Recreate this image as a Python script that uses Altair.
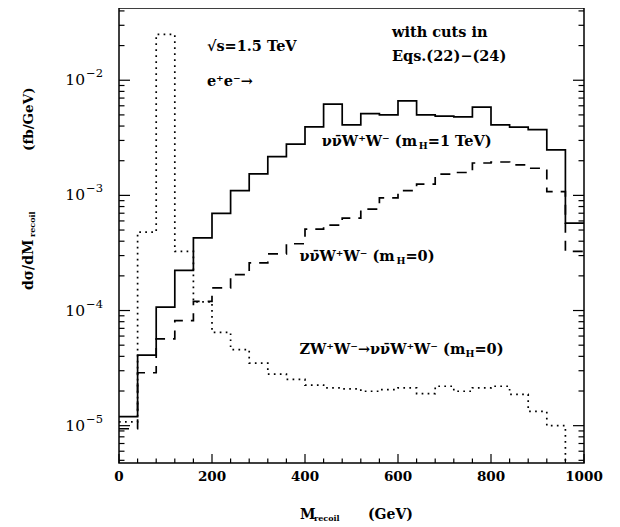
import altair as alt
import pandas as pd

# ---------------- data ----------------
edges = list(range(0, 1001, 40))  # M_recoil bin edges (GeV)

# nu nubar W+ W- (m_H = 1 TeV)  -- solid
solid = [1.2e-5, 4.1e-5, 1.07e-4, 2.23e-4, 4.27e-4, 6.97e-4, 1.1e-3, 1.54e-3,
         2.17e-3, 2.79e-3, 3.94e-3, 6.2e-3, 4.09e-3, 5.13e-3, 5.0e-3, 6.61e-3,
         5.0e-3, 4.87e-3, 4.8e-3, 5.83e-3, 4.09e-3, 3.91e-3, 3.73e-3, 2.48e-3,
         5.75e-4]
# nu nubar W+ W- (m_H = 0)  -- dashed
dashed = [9.4e-6, 2.88e-5, 5.68e-5, 8.17e-5, 1.2e-4, 1.57e-4, 2.05e-4, 2.59e-4,
          3.11e-4, 3.8e-4, 5.1e-4, 5.52e-4, 6.35e-4, 7.6e-4, 9.5e-4, 1.1e-3,
          1.25e-3, 1.53e-3, 1.58e-3, 1.91e-3, 1.95e-3, 1.84e-3, 1.72e-3, 1.08e-3,
          3.26e-4]
# Z W+ W- -> nu nubar W+ W- (m_H = 0)  -- dotted
dotted = [1.08e-5, 4.8e-4, 2.5e-2, 3.26e-4, 1.19e-4, 6.47e-5, 4.58e-5, 3.49e-5,
          2.8e-5, 2.52e-5, 2.25e-5, 2.13e-5, 2.09e-5, 1.99e-5, 2.06e-5, 2.13e-5,
          1.9e-5, 2.2e-5, 1.99e-5, 2.13e-5, 2.2e-5, 1.87e-5, 1.33e-5, 1.0e-5,
          1.0e-6]

x_major = [0, 200, 400, 600, 800, 1000]
x_minor = [v for v in range(40, 1000, 40) if v % 200 != 0]
y_major = [1e-5, 1e-4, 1e-3, 1e-2]
y_major_exp = ["\u22125", "\u22124", "\u22123", "\u22122"]
y_minor = [k * 10.0 ** e for e in range(-6, -1) for k in range(2, 10)]

W, H = 465, 455
YDOM = [4.74e-6, 0.0424]
FONT = "DejaVu Serif"
BOLD = "bold"

xs = alt.Scale(domain=[0, 1000], nice=False, zero=False)
ys = alt.Scale(type="log", domain=YDOM, nice=False)
y_minor = [v for v in y_minor if YDOM[0] < v < YDOM[1]]


def X(f="x"):
    return alt.X(f"{f}:Q", scale=xs, axis=None)


def Y(f="y"):
    return alt.Y(f"{f}:Q", scale=ys, axis=None)


def hist(vals, dash=None):
    df = pd.DataFrame({"x": edges, "y": vals + [vals[-1]]})
    kw = dict(interpolate="step-after", color="black", strokeWidth=1.7, clip=True)
    if dash:
        kw["strokeDash"] = dash
    return alt.Chart(df).mark_line(**kw).encode(x=X(), y=Y())


layers = [
    hist(dotted, [1.7, 4.3]),
    hist(dashed, [10, 8]),
    hist(solid),
]

# ---- inward ticks ----
def xticks(vals, length):
    df = pd.DataFrame({"x": vals})
    return alt.Chart(df).mark_rule(color="black", strokeWidth=1.2).encode(
        x=X(), y=alt.value(H), y2=alt.value(H - length))


def yticks(vals, length):
    df = pd.DataFrame({"y": vals})
    left = alt.Chart(df).mark_rule(color="black", strokeWidth=1.2).encode(
        y=Y(), x=alt.value(0), x2=alt.value(length))
    right = alt.Chart(df).mark_rule(color="black", strokeWidth=1.2).encode(
        y=Y(), x=alt.value(W), x2=alt.value(W - length))
    return [left, right]


layers += [xticks(x_major, 9), xticks(x_minor, 4.5)]
layers += yticks(y_major, 11) + yticks(y_minor, 5.5)

# ---- tick labels ----
xl = pd.DataFrame({"x": x_major, "t": [str(v) for v in x_major]})
layers.append(alt.Chart(xl).mark_text(font=FONT, fontSize=13.5, fontWeight=BOLD,
                                       baseline="middle", color="black").encode(
    x=X(), y=alt.value(H + 14), text="t:N"))
yl = pd.DataFrame({"y": y_major, "e": y_major_exp, "b": ["10"] * 4})
layers.append(alt.Chart(yl).mark_text(font=FONT, fontSize=15.5, baseline="middle",
                                       align="right", color="black").encode(
    y=Y(), x=alt.value(-34), text="b:N"))
layers.append(alt.Chart(yl).mark_text(font=FONT, fontSize=11.5, baseline="middle",
                                       align="left", dy=-6, color="black").encode(
    y=Y(), x=alt.value(-33), text="e:N"))

# ---- axis titles (pieces for subscripts) ----
def ptext(text, x, y, size, **kw):
    df = pd.DataFrame({"t": [text]})
    return alt.Chart(df).mark_text(font=FONT, fontSize=size, color="black",
                                   fontWeight=BOLD, **kw).encode(
        x=alt.value(x), y=alt.value(y), text="t:N")


layers += [
    ptext("M", 181, H + 52, 14, align="left", baseline="middle"),
    ptext("recoil", 195, H + 56, 8, align="left", baseline="middle"),
    ptext("(GeV)", 249, H + 52, 14, align="left", baseline="middle"),
    ptext("d\u03c3/dM", -90, 282, 14, align="left", baseline="middle", angle=270),
    ptext("recoil", -86, 229, 8, align="left", baseline="middle", angle=270),
    ptext("(fb/GeV)", -90, 143, 13.5, align="left", baseline="middle", angle=270),
]

# ---- annotations (data coordinates) ----
def atext(text, x, y, size=14.5, dx=0, dy=0):
    df = pd.DataFrame({"x": [x], "y": [y], "t": [text]})
    return alt.Chart(df).mark_text(font=FONT, fontSize=size, color="black",
                                   fontWeight=BOLD, align="left", baseline="middle",
                                   dx=dx, dy=dy).encode(
        x=X(), y=Y(), text="t:N")


nn = "\u03bd\u03bd\u0304W\u207aW\u207b (m"
layers += [
    atext("\u221as=1.5 TeV", 189, 0.0195),
    atext("e\u207ae\u207b\u2192", 189, 9.66e-3),
    atext("with cuts in", 587, 0.0257),
    atext("Eqs.(22)\u2212(24)", 587, 0.0159),
    atext(nn, 436, 2.92e-3),
    atext("H", 436, 2.92e-3, size=9.5, dx=97, dy=4),
    atext("=1 TeV)", 436, 2.92e-3, dx=106),
    atext(nn, 388, 2.93e-4),
    atext("H", 388, 2.93e-4, size=9.5, dx=97, dy=4),
    atext("=0)", 388, 2.93e-4, dx=106),
    atext("ZW\u207aW\u207b\u2192" + nn, 388, 4.58e-5),
    atext("H", 388, 4.58e-5, size=9.5, dx=166, dy=4),
    atext("=0)", 388, 4.58e-5, dx=175),
]

chart = alt.layer(*layers).properties(
    width=W, height=H,
    autosize=alt.AutoSizeParams(type="none"),
    padding={"left": 111, "top": 0, "right": 20, "bottom": 68},
).configure_view(stroke="black", strokeWidth=1.5)

chart.save("out.html", embed_options={"renderer": "svg", "actions": False})
